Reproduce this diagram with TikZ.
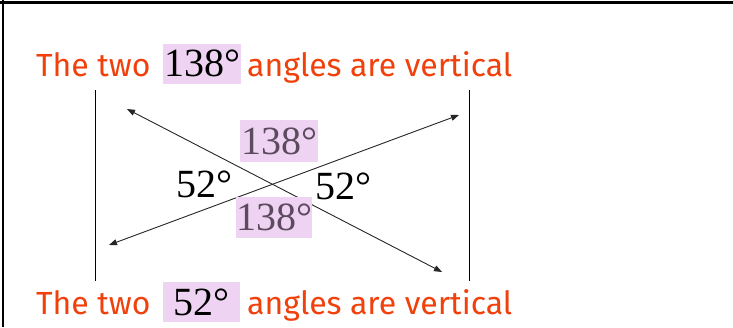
\documentclass[tikz,border=0pt]{standalone}
\usepackage{fontspec}
\setmainfont{Liberation Serif}
\newfontfamily\captionfont{Fira Sans}
\usetikzlibrary{arrows.meta,positioning}
\definecolor{capred}{HTML}{F0400C}
\definecolor{boxpink}{HTML}{EED4F2}
\definecolor{anglegray}{HTML}{5C4A5E}

\begin{document}
\begin{tikzpicture}[x=1pt,y=-1pt,
caption/.style={font=\captionfont\fontsize{32}{38}\selectfont,text=capred,anchor=base west,inner sep=0pt},
degbox/.style={fill=boxpink,font=\fontsize{40}{44}\selectfont,inner sep=0pt,minimum height=40pt,minimum width=78pt},
angle/.style={font=\fontsize{40}{44}\selectfont,inner sep=0pt},
line/.style={{Triangle[length=8pt,width=6pt]}-{Triangle[length=8pt,width=6pt]},line width=0.9pt,draw=black!85},
side/.style={line width=0.9pt,draw=black}]
\useasboundingbox (0,0) rectangle (733,327);
\draw[line width=3pt] (0,2) -- (733,2);
\draw[line width=2.5pt] (3,0) -- (3,327);
% top caption
\node[degbox] (topnum) at (202,63.5) {138°};
\node[caption] (toptwo) at (36,76) {The two};
\node[caption] (toptail) at (247,76) {angles are vertical};
% bottom caption
\node[degbox,minimum width=77pt] (botnum) at (201.5,302) {52°};
\node[caption] (bottwo) at (36,314) {The two};
\node[caption] (bottail) at (247,314) {angles are vertical};
% side bars
\coordinate (lefttop) at (95,90);
\coordinate (leftbot) at (95,281);
\coordinate (righttop) at (469,90);
\coordinate (rightbot) at (469,281);
\draw[side] (lefttop) -- (leftbot);
\draw[side] (righttop) -- (rightbot);
% crossing lines
\coordinate (a1) at (127,109);
\coordinate (a2) at (442,272);
\coordinate (b1) at (109,245);
\coordinate (b2) at (459,115);
\draw[line] (a1) -- (a2);
\draw[line] (b1) -- (b2);
% angle labels
\node[degbox,text=anglegray,minimum width=78pt,minimum height=42pt] (upper) at (279,141) {138°};
\node[degbox,text=anglegray,minimum width=72pt,minimum height=41pt] (lower) at (274,217.5) {138°};
\node[angle] (westang) at (204,184) {52°};
\node[angle] (eastang) at (343,186) {52°};
\end{tikzpicture}
\end{document}
